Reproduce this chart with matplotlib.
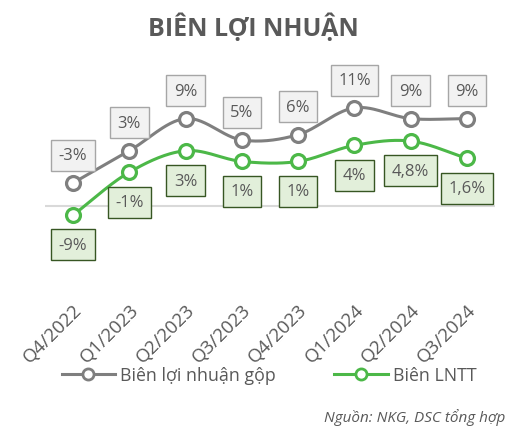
import numpy as np
import matplotlib
matplotlib.use("Agg")
import matplotlib.pyplot as plt

plt.rcParams['font.family'] = ['Open Sans', 'DejaVu Sans']

# Data (% margins)
quarters = ["Q4/2022", "Q1/2023", "Q2/2023", "Q3/2023",
            "Q4/2023", "Q1/2024", "Q2/2024", "Q3/2024"]
gross_margin = [-3, 3, 9, 5, 6, 11, 9, 9]
pretax_margin = [-9, -1, 3, 1, 1, 4, 4.8, 1.6]
gross_labels = ["-3%", "3%", "9%", "5%", "6%", "11%", "9%", "9%"]
pretax_labels = ["-9%", "-1%", "3%", "1%", "1%", "4%", "4,8%", "1,6%"]

GRAY = "#7f7f7f"
GREEN = "#4cb848"
TEXT = "#595959"


def smooth(xs, ys, n=30):
    # Catmull-Rom style curve through the points (like Excel's smoothed line)
    xs = np.asarray(xs, float)
    ys = np.asarray(ys, float)
    px = np.concatenate([[2 * xs[0] - xs[1]], xs, [2 * xs[-1] - xs[-2]]])
    py = np.concatenate([[2 * ys[0] - ys[1]], ys, [2 * ys[-1] - ys[-2]]])
    out_x, out_y = [], []
    t = np.linspace(0, 1, n)
    for i in range(1, len(px) - 2):
        for arr, out in ((px, out_x), (py, out_y)):
            p0, p1, p2, p3 = arr[i - 1], arr[i], arr[i + 1], arr[i + 2]
            seg = 0.5 * ((2 * p1) + (-p0 + p2) * t
                         + (2 * p0 - 5 * p1 + 4 * p2 - p3) * t ** 2
                         + (-p0 + 3 * p1 - 3 * p2 + p3) * t ** 3)
            out.extend(seg)
    return np.array(out_x), np.array(out_y)


fig = plt.figure(figsize=(5.07, 4.31), dpi=100)
ax = fig.add_axes([45 / 507, (431 - 290) / 431, 450 / 507, 220 / 431])

x = np.arange(len(quarters))

ax.axhline(-7.3, color="#d9d9d9", lw=1.5, zorder=1)

for vals, color, name in ((gross_margin, GRAY, "Biên lợi nhuận gộp"),
                          (pretax_margin, GREEN, "Biên LNTT")):
    sx, sy = smooth(x, vals)
    ax.plot(sx, sy, color=color, lw=2.2, zorder=2)
    ax.plot(x, vals, ls="none", marker="o", ms=10, mfc="white",
            mec=color, mew=2.3, zorder=3)
    ax.plot([], [], color=color, lw=2.2, marker="o", ms=8, mfc="white",
            mec=color, mew=2, label=name)

for xi, v, lab in zip(x, gross_margin, gross_labels):
    ax.annotate(lab, (xi, v), xytext=(0, 20), textcoords="offset points",
                ha="center", va="center", fontsize=12, color=TEXT, zorder=4,
                bbox=dict(boxstyle="square,pad=0.45", fc="#f2f2f2",
                          ec="#a6a6a6", lw=1))

for xi, v, lab in zip(x, pretax_margin, pretax_labels):
    ax.annotate(lab, (xi, v), xytext=(0, -21.5), textcoords="offset points",
                ha="center", va="center", fontsize=12, color=TEXT, zorder=4,
                bbox=dict(boxstyle="square,pad=0.45", fc="#e2efda",
                          ec="#375623", lw=1))

ax.set_xlim(-0.5, 7.5)
ax.set_ylim(-22.8, 18.25)
ax.set_yticks([])
ax.set_xticks(x)
ax.set_xticklabels(quarters, rotation=45, ha="right", rotation_mode="anchor",
                   fontsize=13.5, color=TEXT)
ax.tick_params(axis="x", length=0, pad=8)
for s in ax.spines.values():
    s.set_visible(False)

fig.text(0.5, 1 - 28 / 431, "BIÊN LỢI NHUẬN", ha="center", va="center",
         fontsize=18, fontweight="bold", color=TEXT)

fig.legend(loc="center", bbox_to_anchor=(269 / 507, 1 - 376 / 431), ncol=2,
           frameon=False, fontsize=12.8, handlelength=3.0, columnspacing=3.3,
           handletextpad=0.28, labelcolor=TEXT)

fig.text(505 / 507, 1 - 418 / 431, "Nguồn: NKG, DSC tổng hợp", ha="right",
         va="center", fontsize=11, style="italic", color=TEXT)

fig.savefig("out.png", dpi=100)
